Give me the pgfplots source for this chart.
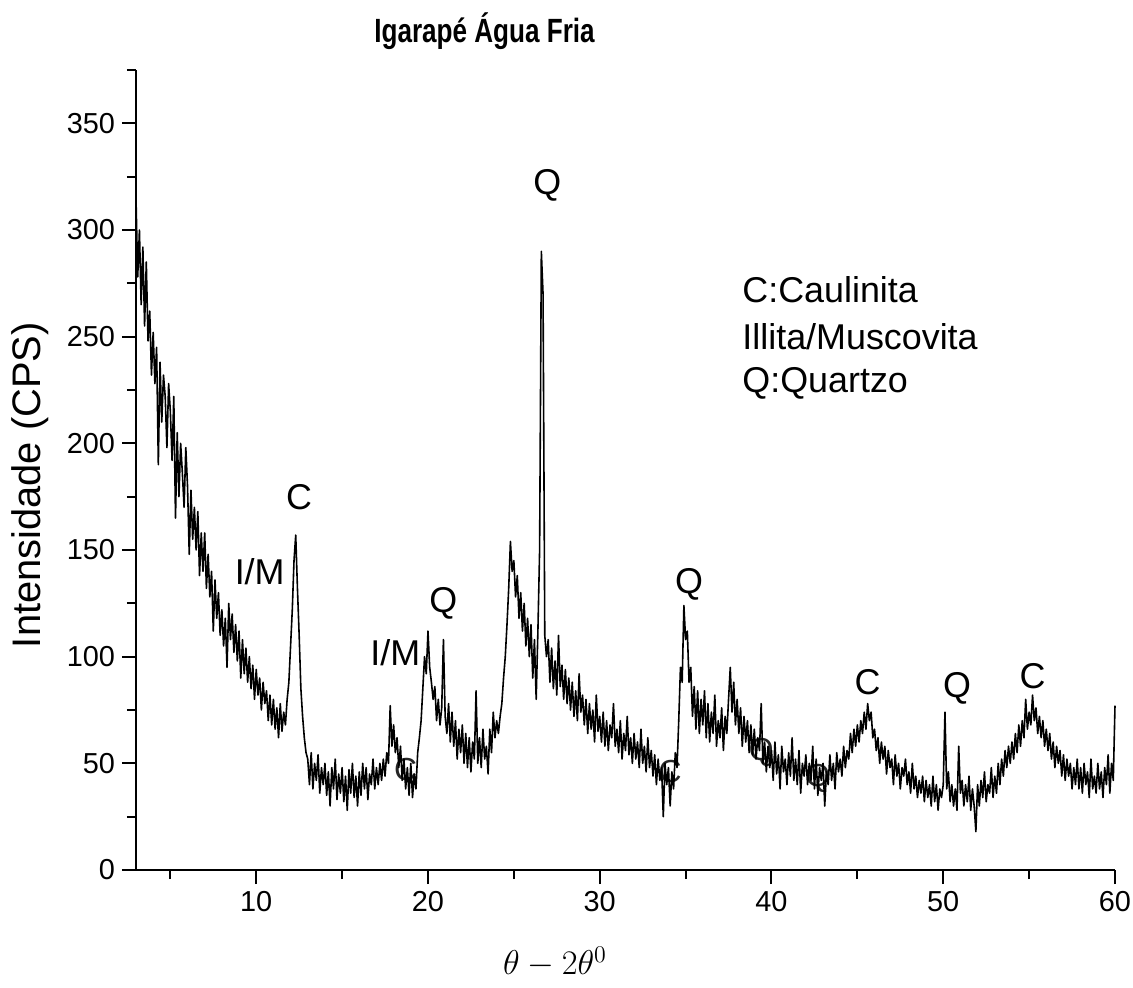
\documentclass[border=0pt]{standalone}
\usepackage{fontspec}
\setmainfont{Liberation Sans}
\usepackage{graphicx}
\usepackage{pgfplots}
\usepackage{pgfplotstable}
\pgfplotsset{compat=1.18}
\pgfplotstableread{
x y
3.0 315
3.1 278
3.2 300
3.3 265
3.4 292
3.5 255
3.6 285
3.7 248
3.8 262
3.9 232
4.0 252
4.1 228
4.2 245
4.3 190
4.4 238
4.5 210
4.6 232
4.7 222
4.8 198
4.9 228
5.0 215
5.1 192
5.2 222
5.3 165
5.4 205
5.5 175
5.6 200
5.7 186
5.8 170
5.9 198
6.0 180
6.1 148
6.2 178
6.3 155
6.4 170
6.5 150
6.6 168
6.7 138
6.8 158
6.9 140
7.0 158
7.1 132
7.2 148
7.3 128
7.4 140
7.5 112
7.6 136
7.7 118
7.8 130
7.9 110
8.0 122
8.1 105
8.2 118
8.3 95
8.4 125
8.5 108
8.6 120
8.7 102
8.8 115
8.9 98
9.0 112
9.1 90
9.2 108
9.3 92
9.4 104
9.5 88
9.6 100
9.7 85
9.8 96
9.9 80
10.0 94
10.1 82
10.2 90
10.3 75
10.4 88
10.5 78
10.6 84
10.7 70
10.8 82
10.9 68
11.0 80
11.1 66
11.2 76
11.3 62
11.4 78
11.5 65
11.6 74
11.7 68
11.8 80
11.9 88
12.0 105
12.1 122
12.2 145
12.3 157
12.4 132
12.5 110
12.6 85
12.7 72
12.8 62
12.9 55
13.0 52
13.1 40
13.2 55
13.3 38
13.4 50
13.5 42
13.6 54
13.7 36
13.8 48
13.9 40
14.0 50
14.1 35
14.2 46
14.3 30
14.4 48
14.5 38
14.6 52
14.7 33
14.8 45
14.9 36
15.0 48
15.1 32
15.2 44
15.3 28
15.4 47
15.5 36
15.6 50
15.7 34
15.8 44
15.9 30
16.0 46
16.1 35
16.2 50
16.3 38
16.4 48
16.5 33
16.6 45
16.7 40
16.8 52
16.9 38
17.0 48
17.1 40
17.2 50
17.3 42
17.4 52
17.5 44
17.6 55
17.7 50
17.8 77
17.9 58
18.0 68
18.1 55
18.2 62
18.3 48
18.4 58
18.5 42
18.6 52
18.7 38
18.8 48
18.9 35
19.0 50
19.1 34
19.2 45
19.3 38
19.4 55
19.5 62
19.6 70
19.7 85
19.8 100
19.9 92
20.0 112
20.1 95
20.2 88
20.3 80
20.4 86
20.5 70
20.6 80
20.7 68
20.8 76
20.9 108
21.0 72
21.1 64
21.2 78
21.3 60
21.4 74
21.5 58
21.6 70
21.7 52
21.8 66
21.9 55
22.0 68
22.1 50
22.2 64
22.3 48
22.4 62
22.5 46
22.6 60
22.7 52
22.8 84
22.9 50
23.0 62
23.1 48
23.2 66
23.3 52
23.4 58
23.5 45
23.6 66
23.7 55
23.8 74
23.9 62
24.0 70
24.1 64
24.2 72
24.3 78
24.4 90
24.5 100
24.6 115
24.7 132
24.8 154
24.9 140
25.0 145
25.1 128
25.2 138
25.3 118
25.4 130
25.5 112
25.6 125
25.7 105
25.8 118
25.9 100
26.0 115
26.1 90
26.2 108
26.3 80
26.4 112
26.5 150
26.6 290
26.7 270
26.8 110
26.9 100
27.0 108
27.1 88
27.2 104
27.3 85
27.4 98
27.5 82
27.6 110
27.7 86
27.8 96
27.9 80
28.0 94
28.1 78
28.2 90
28.3 75
28.4 88
28.5 72
28.6 84
28.7 70
28.8 92
28.9 74
29.0 82
29.1 68
29.2 80
29.3 64
29.4 78
29.5 66
29.6 75
29.7 60
29.8 82
29.9 65
30.0 72
30.1 60
30.2 74
30.3 58
30.4 70
30.5 56
30.6 68
30.7 62
30.8 78
30.9 58
31.0 66
31.1 55
31.2 70
31.3 52
31.4 64
31.5 56
31.6 72
31.7 54
31.8 62
31.9 50
32.0 64
32.1 52
32.2 60
32.3 48
32.4 66
32.5 50
32.6 58
32.7 46
32.8 62
32.9 48
33.0 56
33.1 44
33.2 54
33.3 40
33.4 52
33.5 42
33.6 48
33.7 25
33.8 50
33.9 40
34.0 48
34.1 30
34.2 46
34.3 38
34.4 55
34.5 48
34.6 70
34.7 95
34.8 88
34.9 124
35.0 108
35.1 112
35.2 88
35.3 95
35.4 72
35.5 86
35.6 66
35.7 84
35.8 64
35.9 80
36.0 68
36.1 84
36.2 62
36.3 78
36.4 60
36.5 74
36.6 64
36.7 82
36.8 58
36.9 70
37.0 62
37.1 76
37.2 56
37.3 72
37.4 64
37.5 80
37.6 95
37.7 74
37.8 88
37.9 68
38.0 80
38.1 64
38.2 76
38.3 58
38.4 72
38.5 60
38.6 70
38.7 55
38.8 68
38.9 54
39.0 66
39.1 52
39.2 62
39.3 56
39.4 78
39.5 50
39.6 60
39.7 46
39.8 58
39.9 48
40.0 56
40.1 42
40.2 60
40.3 45
40.4 54
40.5 38
40.6 58
40.7 46
40.8 52
40.9 40
41.0 55
41.1 44
41.2 62
41.3 42
41.4 52
41.5 40
41.6 56
41.7 36
41.8 50
41.9 44
42.0 54
42.1 40
42.2 50
42.3 42
42.4 58
42.5 38
42.6 52
42.7 35
42.8 48
42.9 42
43.0 50
43.1 30
43.2 46
43.3 40
43.4 54
43.5 42
43.6 50
43.7 38
43.8 55
43.9 46
44.0 52
44.1 44
44.2 58
44.3 48
44.4 56
44.5 52
44.6 64
44.7 55
44.8 66
44.9 58
45.0 68
45.1 60
45.2 70
45.3 64
45.4 74
45.5 66
45.6 78
45.7 70
45.8 74
45.9 62
46.0 66
46.1 56
46.2 62
46.3 50
46.4 60
46.5 52
46.6 58
46.7 45
46.8 56
46.9 48
47.0 52
47.1 40
47.2 54
47.3 44
47.4 50
47.5 38
47.6 48
47.7 44
47.8 52
47.9 40
48.0 46
48.1 36
48.2 50
48.3 38
48.4 44
48.5 34
48.6 42
48.7 36
48.8 44
48.9 32
49.0 42
49.1 34
49.2 40
49.3 30
49.4 44
49.5 32
49.6 40
49.7 28
49.8 38
49.9 34
50.0 40
50.1 74
50.2 38
50.3 46
50.4 32
50.5 40
50.6 30
50.7 38
50.8 28
50.9 58
51.0 36
51.1 42
51.2 30
51.3 40
51.4 32
51.5 44
51.6 28
51.7 38
51.8 30
51.9 18
52.0 40
52.1 30
52.2 42
52.3 34
52.4 46
52.5 32
52.6 40
52.7 36
52.8 48
52.9 34
53.0 44
53.1 36
53.2 50
53.3 40
53.4 52
53.5 44
53.6 56
53.7 48
53.8 58
53.9 50
54.0 60
54.1 52
54.2 64
54.3 55
54.4 68
54.5 58
54.6 70
54.7 62
54.8 80
54.9 66
55.0 74
55.1 68
55.2 82
55.3 70
55.4 76
55.5 64
55.6 72
55.7 62
55.8 70
55.9 58
56.0 66
56.1 56
56.2 64
56.3 52
56.4 60
56.5 48
56.6 58
56.7 50
56.8 56
56.9 44
57.0 54
57.1 42
57.2 52
57.3 44
57.4 50
57.5 38
57.6 48
57.7 40
57.8 52
57.9 38
58.0 48
58.1 36
58.2 50
58.3 40
58.4 46
58.5 34
58.6 52
58.7 38
58.8 44
58.9 36
59.0 50
59.1 38
59.2 46
59.3 34
59.4 48
59.5 40
59.6 54
59.7 36
59.8 50
59.9 42
60.0 77
}\xrd
\begin{document}
\begin{tikzpicture}
\path[use as bounding box] (-68bp,-59bp) rectangle (498.5bp,435bp);
\begin{axis}[
  at={(0,0)}, anchor=south west,
  scale only axis, width=489.5bp, height=400bp,
  xmin=3, xmax=60, ymin=0, ymax=375,
  axis lines=left, axis line style={-, line width=1pt},
  xtick={10,20,...,60}, minor xtick={5,15,...,55},
  ytick={0,50,...,350}, minor ytick={25,75,...,375},
  tick align=outside, major tick length=7bp, minor tick length=4.5bp,
  every tick/.style={black, line width=1pt},
  /pgf/number format/assume math mode=true,
  tick label style={font=\fontsize{14.5}{17}\selectfont},
  xlabel={$\theta - 2\theta^{0}$},
  xlabel style={at={(axis description cs:0.428,-0.115)}, anchor=center, font=\fontsize{17}{20}\selectfont},
  ylabel={Intensidade (CPS)},
  ylabel style={at={(axis description cs:-0.108,0.481)}, anchor=center, font=\fontsize{20}{24}\selectfont},
  title={\scalebox{0.97}[1.25]{Igarapé Água Fria}},
  title style={at={(axis description cs:0.356,1.034)}, anchor=center, font=\bfseries\fontsize{13.5}{16}\selectfont},
  clip=false,
]
\begin{scope}[every node/.style={font=\fontsize{16}{18}\selectfont, text=black!85}]
\node at (axis cs:18.7,47) {C};
\node at (axis cs:34.1,46) {C};
\node at (axis cs:39.4,55) {Q};
\node at (axis cs:42.7,43) {Q};
\end{scope}
\addplot[black, line width=0.8pt, line join=round, mark=none] table[x=x, y=y] {\xrd};
\begin{scope}[every node/.style={font=\fontsize{18}{20}\selectfont}]
\node at (axis cs:26.95,321) {Q};
\node at (axis cs:12.5,175) {C};
\node at (axis cs:10.2,140) {I/M};
\node at (axis cs:18.1,102) {I/M};
\node at (axis cs:20.9,125) {Q};
\node at (axis cs:35.2,134) {Q};
\node at (axis cs:45.6,88) {C};
\node at (axis cs:50.8,85) {Q};
\node at (axis cs:55.2,91) {C};
\node[anchor=west] at (axis cs:37.9,272) {C:Caulinita};
\node[anchor=west] at (axis cs:37.9,250) {Illita/Muscovita};
\node[anchor=west] at (axis cs:37.9,228) {Q:Quartzo};
\end{scope}
\end{axis}
\end{tikzpicture}
\end{document}
